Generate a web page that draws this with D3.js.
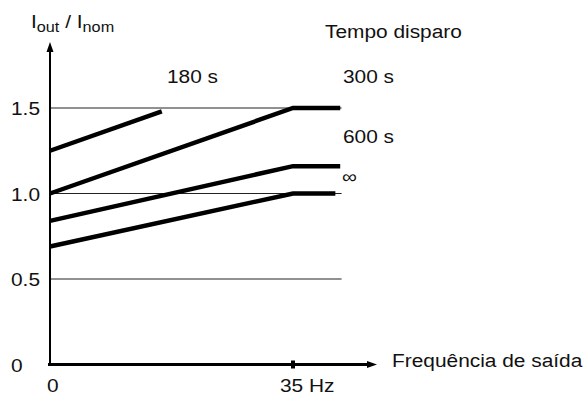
<!DOCTYPE html>
<html>
<head>
<meta charset="utf-8">
<script src="https://cdn.jsdelivr.net/npm/d3@7"></script>
<style>
  html, body { margin: 0; padding: 0; background: #fff; }
  svg { display: block; }
  text { font-family: "Liberation Sans", Arial, Helvetica, sans-serif; fill: #111; }
</style>
</head>
<body>
<svg id="chart" width="587" height="397"></svg>
<script>
// Grid levels and tick labels
const yTicks = [0, 0.5, 1.0, 1.5];
const yTickLabels = ["0", "0.5", "1.0", "1.5"];
const gridLevels = [0.5, 1.0, 1.5];
const xTicks = [0, 35];
const xTickLabels = ["0", "35 Hz"];

// Trip time curves: frequency (Hz) and current ratio
const curveNames = ["180 s", "300 s", "600 s", "\u221e"];
const curveFreq = [
    [0, 16.1],
    [0, 35, 41.8],
    [0, 35, 41.8],
    [0, 35, 41.1]
];
const curveValues = [
    [1.25, 1.48],
    [1.0, 1.5, 1.5],
    [0.84, 1.16, 1.16],
    [0.69, 1.0, 1.0]
];

let svg = d3.select("#chart");

// Scales
let x = d3.scaleLinear().domain([0, 35]).range([50, 293]);
let y = d3.scaleLinear().domain([0, 1.5]).range([364.5, 108]);

// Text is drawn a little wider than the font to match the source
let stretch = 1.16;
function label(px, py, txt, size) {
    return svg.append("text")
        .attr("transform", "translate(" + px + "," + py + ") scale(" + stretch + ",1)")
        .attr("font-size", size || 18)
        .text(txt);
}

// Horizontal grid lines
svg.append("g")
    .selectAll("line")
    .data(gridLevels)
    .join("line")
    .attr("x1", x(0))
    .attr("x2", x(42))
    .attr("y1", d => y(d))
    .attr("y2", d => y(d))
    .attr("stroke", "#222")
    .attr("stroke-width", 1);

// Curves
let line = d3.line()
    .x(d => x(d[0]))
    .y(d => y(d[1]));

svg.append("g")
    .selectAll("path")
    .data(curveFreq.map((f, i) => f.map((v, j) => [v, curveValues[i][j]])))
    .join("path")
    .attr("d", line)
    .attr("fill", "none")
    .attr("stroke", "#000")
    .attr("stroke-width", 4.5);

// Y axis with arrow
svg.append("line")
    .attr("x1", x(0)).attr("x2", x(0))
    .attr("y1", y(0) + 1).attr("y2", 50)
    .attr("stroke", "#000").attr("stroke-width", 2);
svg.append("path")
    .attr("d", "M" + x(0) + ",42 L" + (x(0) - 3.5) + ",52 L" + (x(0) + 3.5) + ",52 Z")
    .attr("fill", "#000");

// X axis with arrow
svg.append("line")
    .attr("x1", x(0) - 2).attr("x2", 370)
    .attr("y1", y(0)).attr("y2", y(0))
    .attr("stroke", "#000").attr("stroke-width", 3);
svg.append("path")
    .attr("d", "M377," + y(0) + " L367," + (y(0) - 3.5) + " L367," + (y(0) + 3.5) + " Z")
    .attr("fill", "#000");

// Tick mark at 35 Hz
svg.append("rect")
    .attr("x", x(35) - 2).attr("y", y(0) - 4)
    .attr("width", 4).attr("height", 8)
    .attr("fill", "#000");

// Y tick labels
yTicks.forEach((t, i) => label(11, y(t) + 7, yTickLabels[i]));

// X tick labels
label(47, 392, xTickLabels[0]);
label(280, 392, xTickLabels[1]);

// Axis titles
let yt = svg.append("text")
    .attr("transform", "translate(31,28) scale(" + stretch + ",1)")
    .attr("font-size", 18);
yt.append("tspan").text("I");
yt.append("tspan").attr("font-size", 14).attr("dy", 4).text("out");
yt.append("tspan").attr("dy", -4).text(" / I");
yt.append("tspan").attr("font-size", 14).attr("dy", 4).text("nom");

label(392, 367, "Frequência de saída");
label(325, 38, "Tempo disparo");

// Curve labels
label(167, 83, curveNames[0]);
label(343, 83, curveNames[1]);
label(343, 143, curveNames[2]);
label(342, 183, curveNames[3]);
</script>
</body>
</html>
